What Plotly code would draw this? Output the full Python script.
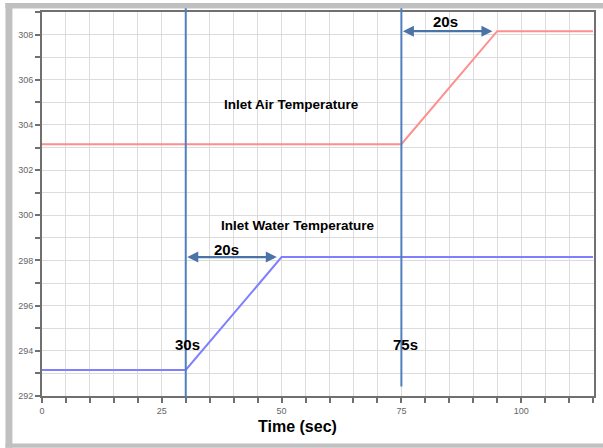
import plotly.graph_objects as go

# Data
time_air = [0, 75, 95, 115]
temp_air = [303.15, 303.15, 308.15, 308.15]
time_water = [0, 30, 50, 115]
temp_water = [293.15, 293.15, 298.15, 298.15]
event_times = [30, 75]
ramp_duration = 20

FONT = "Liberation Sans, Arial, sans-serif"
VBLUE = "#4f7fbf"

fig = go.Figure()
fig.add_trace(go.Scatter(x=time_air, y=temp_air, mode="lines",
                         line=dict(color="#ff8f8f", width=2), hoverinfo="skip"))
fig.add_trace(go.Scatter(x=time_water, y=temp_water, mode="lines",
                         line=dict(color="#7f7fff", width=2), hoverinfo="skip"))

shapes = []
# outer gray frame (paper coords)
shapes.append(dict(type="rect", xref="paper", yref="paper", x0=-0.0662, x1=1.02, y0=1.0093, y1=1.0235,
                   fillcolor="#c0c0c0", line=dict(width=0), layer="below"))
shapes.append(dict(type="rect", xref="paper", yref="paper", x0=-0.0662, x1=-0.0536, y0=-0.1345, y1=1.0235,
                   fillcolor="#c0c0c0", line=dict(width=0), layer="below"))
shapes.append(dict(type="rect", xref="paper", yref="paper", x0=-0.0662, x1=1.02, y0=-0.1345, y1=-0.1236,
                   fillcolor="#c0c0c0", line=dict(width=0), layer="below"))
# vertical event lines
shapes.append(dict(type="line", xref="x", yref="paper", x0=event_times[0], x1=event_times[0],
                   y0=-0.003, y1=1.01, line=dict(color=VBLUE, width=2)))
shapes.append(dict(type="line", xref="x", yref="paper", x0=event_times[1], x1=event_times[1],
                   y0=0.025, y1=1.01, line=dict(color=VBLUE, width=2)))

annotations = []
# double arrows
for t0, yv in [(event_times[1], temp_air[-1]), (event_times[0], temp_water[-1])]:
    annotations.append(dict(x=t0 + ramp_duration - 1, y=yv, ax=t0, ay=yv, xref="x", yref="y",
                            axref="x", ayref="y", text="", showarrow=True, arrowhead=2,
                            arrowside="end+start", arrowsize=1, arrowwidth=2.2,
                            arrowcolor="#4a73a8", standoff=0, startstandoff=0))

def txt(x, y, s, size):
    annotations.append(dict(x=x, y=y, xref="x", yref="y", text="<b>%s</b>" % s, showarrow=False,
                            font=dict(family=FONT, size=size, color="#000000"),
                            xanchor="center", yanchor="middle"))

txt(84.3, 308.58, "20s", 15)
txt(52.0, 304.9, "Inlet Air Temperature", 13.5)
txt(53.5, 299.55, "Inlet Water Temperature", 13.5)
txt(38.4, 298.5, "20s", 15)
txt(30.4, 294.3, "30s", 15)
txt(75.9, 294.3, "75s", 15)

annotations.append(dict(x=0.463, y=-0.08, xref="paper", yref="paper", text="<b>Time (sec)</b>",
                        showarrow=False, font=dict(family=FONT, size=16, color="#000000"),
                        xanchor="center", yanchor="middle"))

fig.update_layout(
    width=603, height=448,
    margin=dict(l=42, r=7, t=12, b=52),
    paper_bgcolor="white", plot_bgcolor="white",
    showlegend=False,
    shapes=shapes, annotations=annotations,
    xaxis=dict(range=[0, 115.2], tickmode="linear", tick0=0, dtick=25,
               ticks="outside", ticklen=5, tickcolor="#707070", tickwidth=1.5,
               showline=True, linecolor="#707070", linewidth=2, mirror=True,
               showgrid=True, gridcolor="#dcdcdc", gridwidth=1.2, zeroline=False,
               tickfont=dict(family=FONT, size=9, color="#666666"),
               minor=dict(dtick=5, tick0=0, ticks="outside", ticklen=5, tickcolor="#707070",
                          showgrid=True, gridcolor="#dcdcdc", gridwidth=1.2)),
    yaxis=dict(range=[292, 309], tickmode="linear", tick0=292, dtick=2,
               ticks="outside", ticklen=5, tickcolor="#707070", tickwidth=1.5,
               showline=True, linecolor="#707070", linewidth=2, mirror=True,
               showgrid=True, gridcolor="#dcdcdc", gridwidth=1.2, zeroline=False,
               tickfont=dict(family=FONT, size=9, color="#666666"),
               minor=dict(dtick=1, tick0=292, ticks="outside", ticklen=5, tickcolor="#707070",
                          showgrid=True, gridcolor="#dcdcdc", gridwidth=1.2)),
)

fig.write_html("out.html")
